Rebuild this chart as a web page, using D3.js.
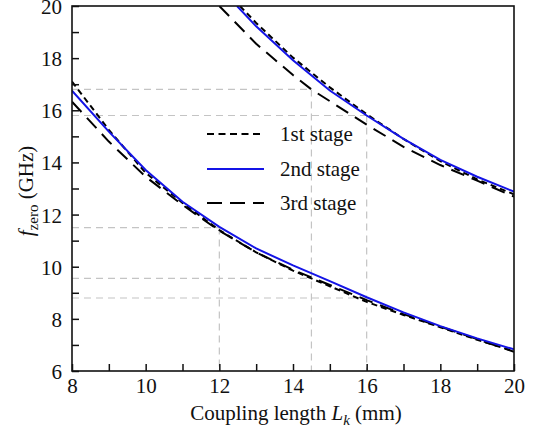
<!DOCTYPE html>
<html>
<head>
  <meta charset="utf-8" />
  <title>f_zero vs coupling length</title>
  <style type="text/css">
    body { margin: 0; background: #fff; }
  </style>
</head>
<body>
  <div id="chart"></div>

  <script src="https://cdn.jsdelivr.net/npm/d3@7"></script>
  <script>
  // lower branch (all stages share the same x)
  var lowX = [8, 9, 10, 11, 12, 13, 14, 15, 16, 17, 18, 19, 20];
  var low1 = [17.1, 15.25, 13.6, 12.45, 11.4, 10.55, 9.85, 9.25, 8.65, 8.15, 7.68, 7.2, 6.76];
  var low2 = [16.75, 15.18, 13.71, 12.49, 11.53, 10.7, 10.05, 9.45, 8.83, 8.25, 7.72, 7.25, 6.83];
  var low3 = [16.33, 14.8, 13.45, 12.37, 11.38, 10.55, 9.88, 9.3, 8.72, 8.18, 7.7, 7.22, 6.74];

  // upper branch
  var up1X = [12.56, 13, 14, 15, 16, 17, 18, 19, 20];
  var up1 = [20, 19.35, 18.02, 16.88, 15.85, 14.9, 14.05, 13.35, 12.78];
  var up2X = [12.48, 13, 14, 15, 16, 17, 18, 19, 20];
  var up2 = [20, 19.22, 17.92, 16.76, 15.8, 14.9, 14.1, 13.45, 12.88];
  var up3X = [12.0, 13, 14, 14.5, 15, 16, 17, 18, 19, 20];
  var up3 = [20, 18.55, 17.35, 16.8, 16.35, 15.45, 14.6, 13.9, 13.3, 12.69];

  // gray guide lines: horizontal ones run from x = 8 to guideX
  var guideX = [14.5, 16, 12, 14.5, 16];
  var guideY = [16.8, 15.8, 11.5, 9.55, 8.8];
  var vertX = [12, 14.5, 16];
  var vertTop = [11.5, 16.8, 15.8];

  var stageNames = ['1st stage', '2nd stage', '3rd stage'];
  var xTicks = [8, 10, 12, 14, 16, 18, 20];
  var yTicks = [6, 8, 10, 12, 14, 16, 18, 20];

  var width = 540, height = 431;
  var margin = {top: 6, right: 26, bottom: 60, left: 72};
  var serif = "'Liberation Serif', 'Times New Roman', 'DejaVu Serif', serif";

  var svg = d3.select('#chart').append('svg')
    .attr('width', width).attr('height', height)
    .attr('font-family', serif);

  var x = d3.scaleLinear().domain([8, 20]).range([margin.left, width - margin.right]);
  var y = d3.scaleLinear().domain([6, 20]).range([height - margin.bottom, margin.top]);

  var styles = [
    {color: '#000', dash: '6,4'},
    {color: '#1414e6', dash: null},
    {color: '#000', dash: '14,8'}
  ];

  // guide lines
  var g = svg.append('g').attr('stroke', '#c4c4c4').attr('stroke-width', 1.2)
    .attr('stroke-dasharray', '7,5').attr('fill', 'none');
  guideX.forEach(function (gx, i) {
    g.append('line').attr('x1', x(8)).attr('x2', x(gx)).attr('y1', y(guideY[i])).attr('y2', y(guideY[i]));
  });
  vertX.forEach(function (vx, i) {
    g.append('line').attr('x1', x(vx)).attr('x2', x(vx)).attr('y1', y(vertTop[i])).attr('y2', y(6));
  });

  svg.append('clipPath').attr('id', 'clip').append('rect')
    .attr('x', x(8)).attr('y', y(20)).attr('width', x(20) - x(8)).attr('height', y(6) - y(20));

  var line = d3.line().x(function (d) { return x(d[0]); }).y(function (d) { return y(d[1]); });

  var curves = [
    [d3.zip(lowX, low1), 0], [d3.zip(up1X, up1), 0],
    [d3.zip(lowX, low3), 2], [d3.zip(up3X, up3), 2],
    [d3.zip(lowX, low2), 1], [d3.zip(up2X, up2), 1]
  ];
  var cg = svg.append('g').attr('clip-path', 'url(#clip)');
  curves.forEach(function (c) {
    cg.append('path').attr('d', line(c[0])).attr('fill', 'none')
      .attr('stroke', styles[c[1]].color).attr('stroke-width', 2)
      .attr('stroke-dasharray', styles[c[1]].dash);
  });

  // axes, ticks point inward
  var xAxis = svg.append('g').attr('transform', 'translate(0,' + y(6) + ')')
    .call(d3.axisBottom(x).tickValues(d3.range(8, 21, 1)).tickSize(-7).tickPadding(7)
      .tickFormat(function (d) { return xTicks.indexOf(d) >= 0 ? d : ''; }));
  var yAxis = svg.append('g').attr('transform', 'translate(' + x(8) + ',0)')
    .call(d3.axisLeft(y).tickValues(d3.range(6, 21, 1)).tickSize(-7).tickPadding(10)
      .tickFormat(function (d) { return yTicks.indexOf(d) >= 0 ? d : ''; }));
  [xAxis, yAxis].forEach(function (a) {
    a.attr('font-family', serif).attr('font-size', null);
    a.select('.domain').remove();
    a.selectAll('line').attr('stroke', '#111').attr('stroke-width', 1.5);
    a.selectAll('text').style('font-size', '21px').attr('fill', '#111');
    a.selectAll('.tick').filter(function (d) { return d % 2 !== 0; }).select('text').remove();
  });
  xAxis.selectAll('text').attr('dy', '0.71em');
  yAxis.selectAll('text').attr('dy', '0.36em');

  svg.append('rect').attr('x', x(8)).attr('y', y(20))
    .attr('width', x(20) - x(8)).attr('height', y(6) - y(20))
    .attr('fill', 'none').attr('stroke', '#111').attr('stroke-width', 1.6);

  // axis titles
  var xt = svg.append('text').attr('x', (x(8) + x(20)) / 2 + 3).attr('y', 420)
    .attr('text-anchor', 'middle').attr('fill', '#111').style('font-size', '21px');
  xt.append('tspan').text('Coupling length ');
  xt.append('tspan').style('font-style', 'italic').text('L');
  xt.append('tspan').style('font-style', 'italic').style('font-size', '15px').attr('dy', 5).text('k');
  xt.append('tspan').attr('dy', -5).text(' (mm)');

  var yt = svg.append('text').attr('transform', 'translate(33,191) rotate(-90)')
    .attr('text-anchor', 'middle').attr('fill', '#111').style('font-size', '21px');
  yt.append('tspan').style('font-style', 'italic').text('f');
  yt.append('tspan').style('font-size', '15px').attr('dy', 5).text('zero');
  yt.append('tspan').attr('dy', -5).text(' (GHz)');

  // legend
  var legY = [134, 169, 203];
  stageNames.forEach(function (name, i) {
    svg.append('line').attr('x1', 207).attr('x2', 264).attr('y1', legY[i]).attr('y2', legY[i])
      .attr('stroke', styles[i].color).attr('stroke-width', 2)
      .attr('stroke-dasharray', i === 0 ? '7,4.5' : (i === 2 ? '15,8' : null));
    svg.append('text').attr('x', 280).attr('y', legY[i] + 7).attr('fill', '#111')
      .style('font-size', '21px').text(name);
  });
  </script>
</body>
</html>
